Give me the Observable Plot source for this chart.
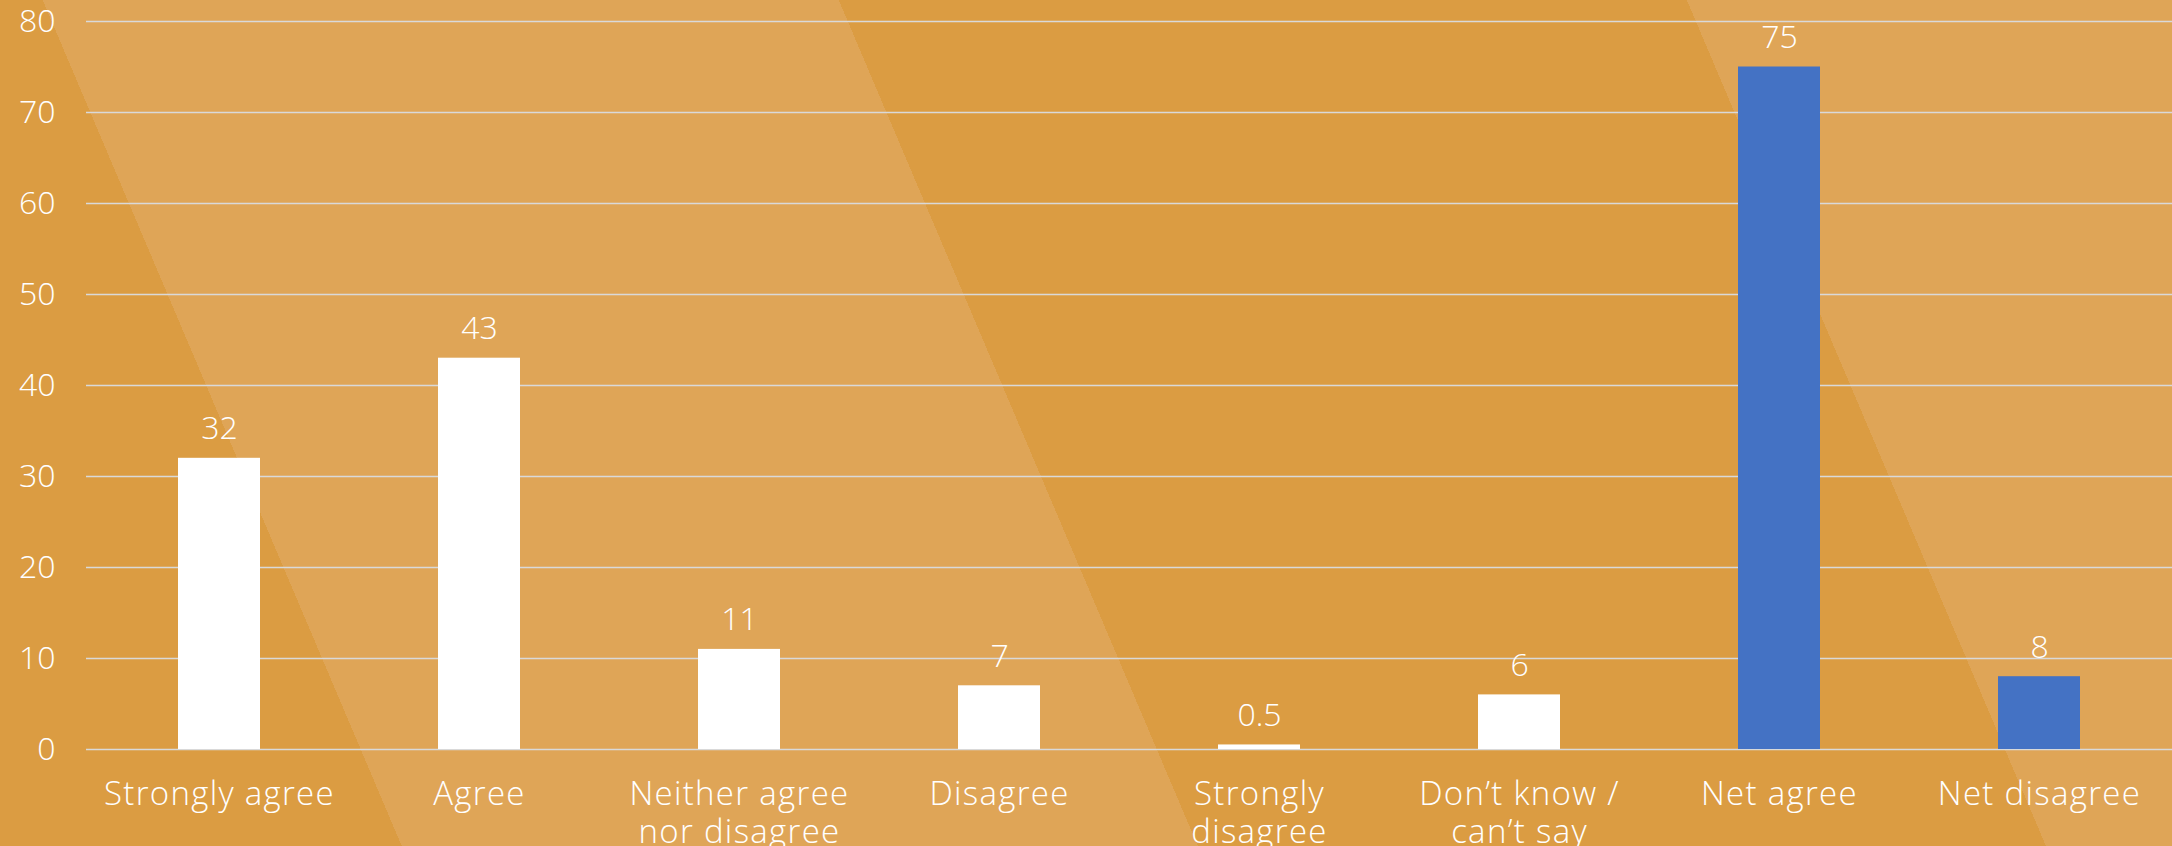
<!DOCTYPE html>
<html>
<head>
<meta charset="utf-8">
<script src="https://cdn.jsdelivr.net/npm/d3@7"></script>
<script src="https://cdn.jsdelivr.net/npm/@observablehq/plot@0.6"></script>
<style>
  html, body { margin: 0; padding: 0; }
  #chart {
    width: 2172px; height: 846px; overflow: hidden;
    background: linear-gradient(67deg,
      #db9c42 0px, #db9c42 369.8px,
      #dfa557 369.8px, #dfa557 1102.6px,
      #db9c42 1102.6px, #db9c42 1883.3px,
      #dfa557 1883.3px, #dfa557 100%);
  }
  #chart svg .xlab text { letter-spacing: 1.3px; }
</style>
</head>
<body>
<div id="chart"></div>
<script>
const categories = ["Strongly agree", "Agree", "Neither agree\nnor disagree", "Disagree", "Strongly\ndisagree", "Don’t know /\ncan’t say", "Net agree", "Net disagree"];
const values = [32, 43, 11, 7, 0.5, 6, 75, 8];
const groups = ["response", "response", "response", "response", "response", "response", "net", "net"];
const valueLabels = ["32", "43", "11", "7", "0.5", "6", "75", "8"];
const yTicks = [0, 10, 20, 30, 40, 50, 60, 70, 80];

const data = categories.map((c, i) => ({cat: c, value: values[i], group: groups[i], label: valueLabels[i]}));

const font = "'Open Sans', 'Noto Sans', sans-serif";

const chart = Plot.plot({
  width: 2172,
  height: 846,
  marginLeft: 86,
  marginRight: 0,
  marginTop: 21,
  marginBottom: 97,
  style: {background: "transparent", fontFamily: font, fontSize: "32px", fontWeight: 300, color: "white", overflow: "visible"},
  x: {domain: categories, paddingInner: 0.686, paddingOuter: 0.343, axis: null},
  y: {domain: [0, 80], axis: null},
  color: {domain: ["response", "net"], range: ["#ffffff", "#4472c4"]},
  marks: [
    Plot.ruleY(yTicks, {stroke: "#d9d9d9", strokeWidth: 1.5}),
    Plot.axisY({ticks: yTicks, label: null, tickSize: 0, tickPadding: 31, fill: "white", fontSize: 32, fontWeight: 300}),
    Plot.barY(data, {x: "cat", y: "value", fill: "group"}),
    Plot.text(data, {x: "cat", y: "value", text: "label", lineAnchor: "bottom", dy: -19, fill: "white", fontSize: 32, fontWeight: 300}),
    Plot.text(data, {x: "cat", y: () => 0, text: "cat", lineAnchor: "top", dy: 29, lineHeight: 1.15, fill: "white", fontSize: 33, fontWeight: 300, className: "xlab"})
  ]
});
document.getElementById("chart").appendChild(chart);
</script>
</body>
</html>
